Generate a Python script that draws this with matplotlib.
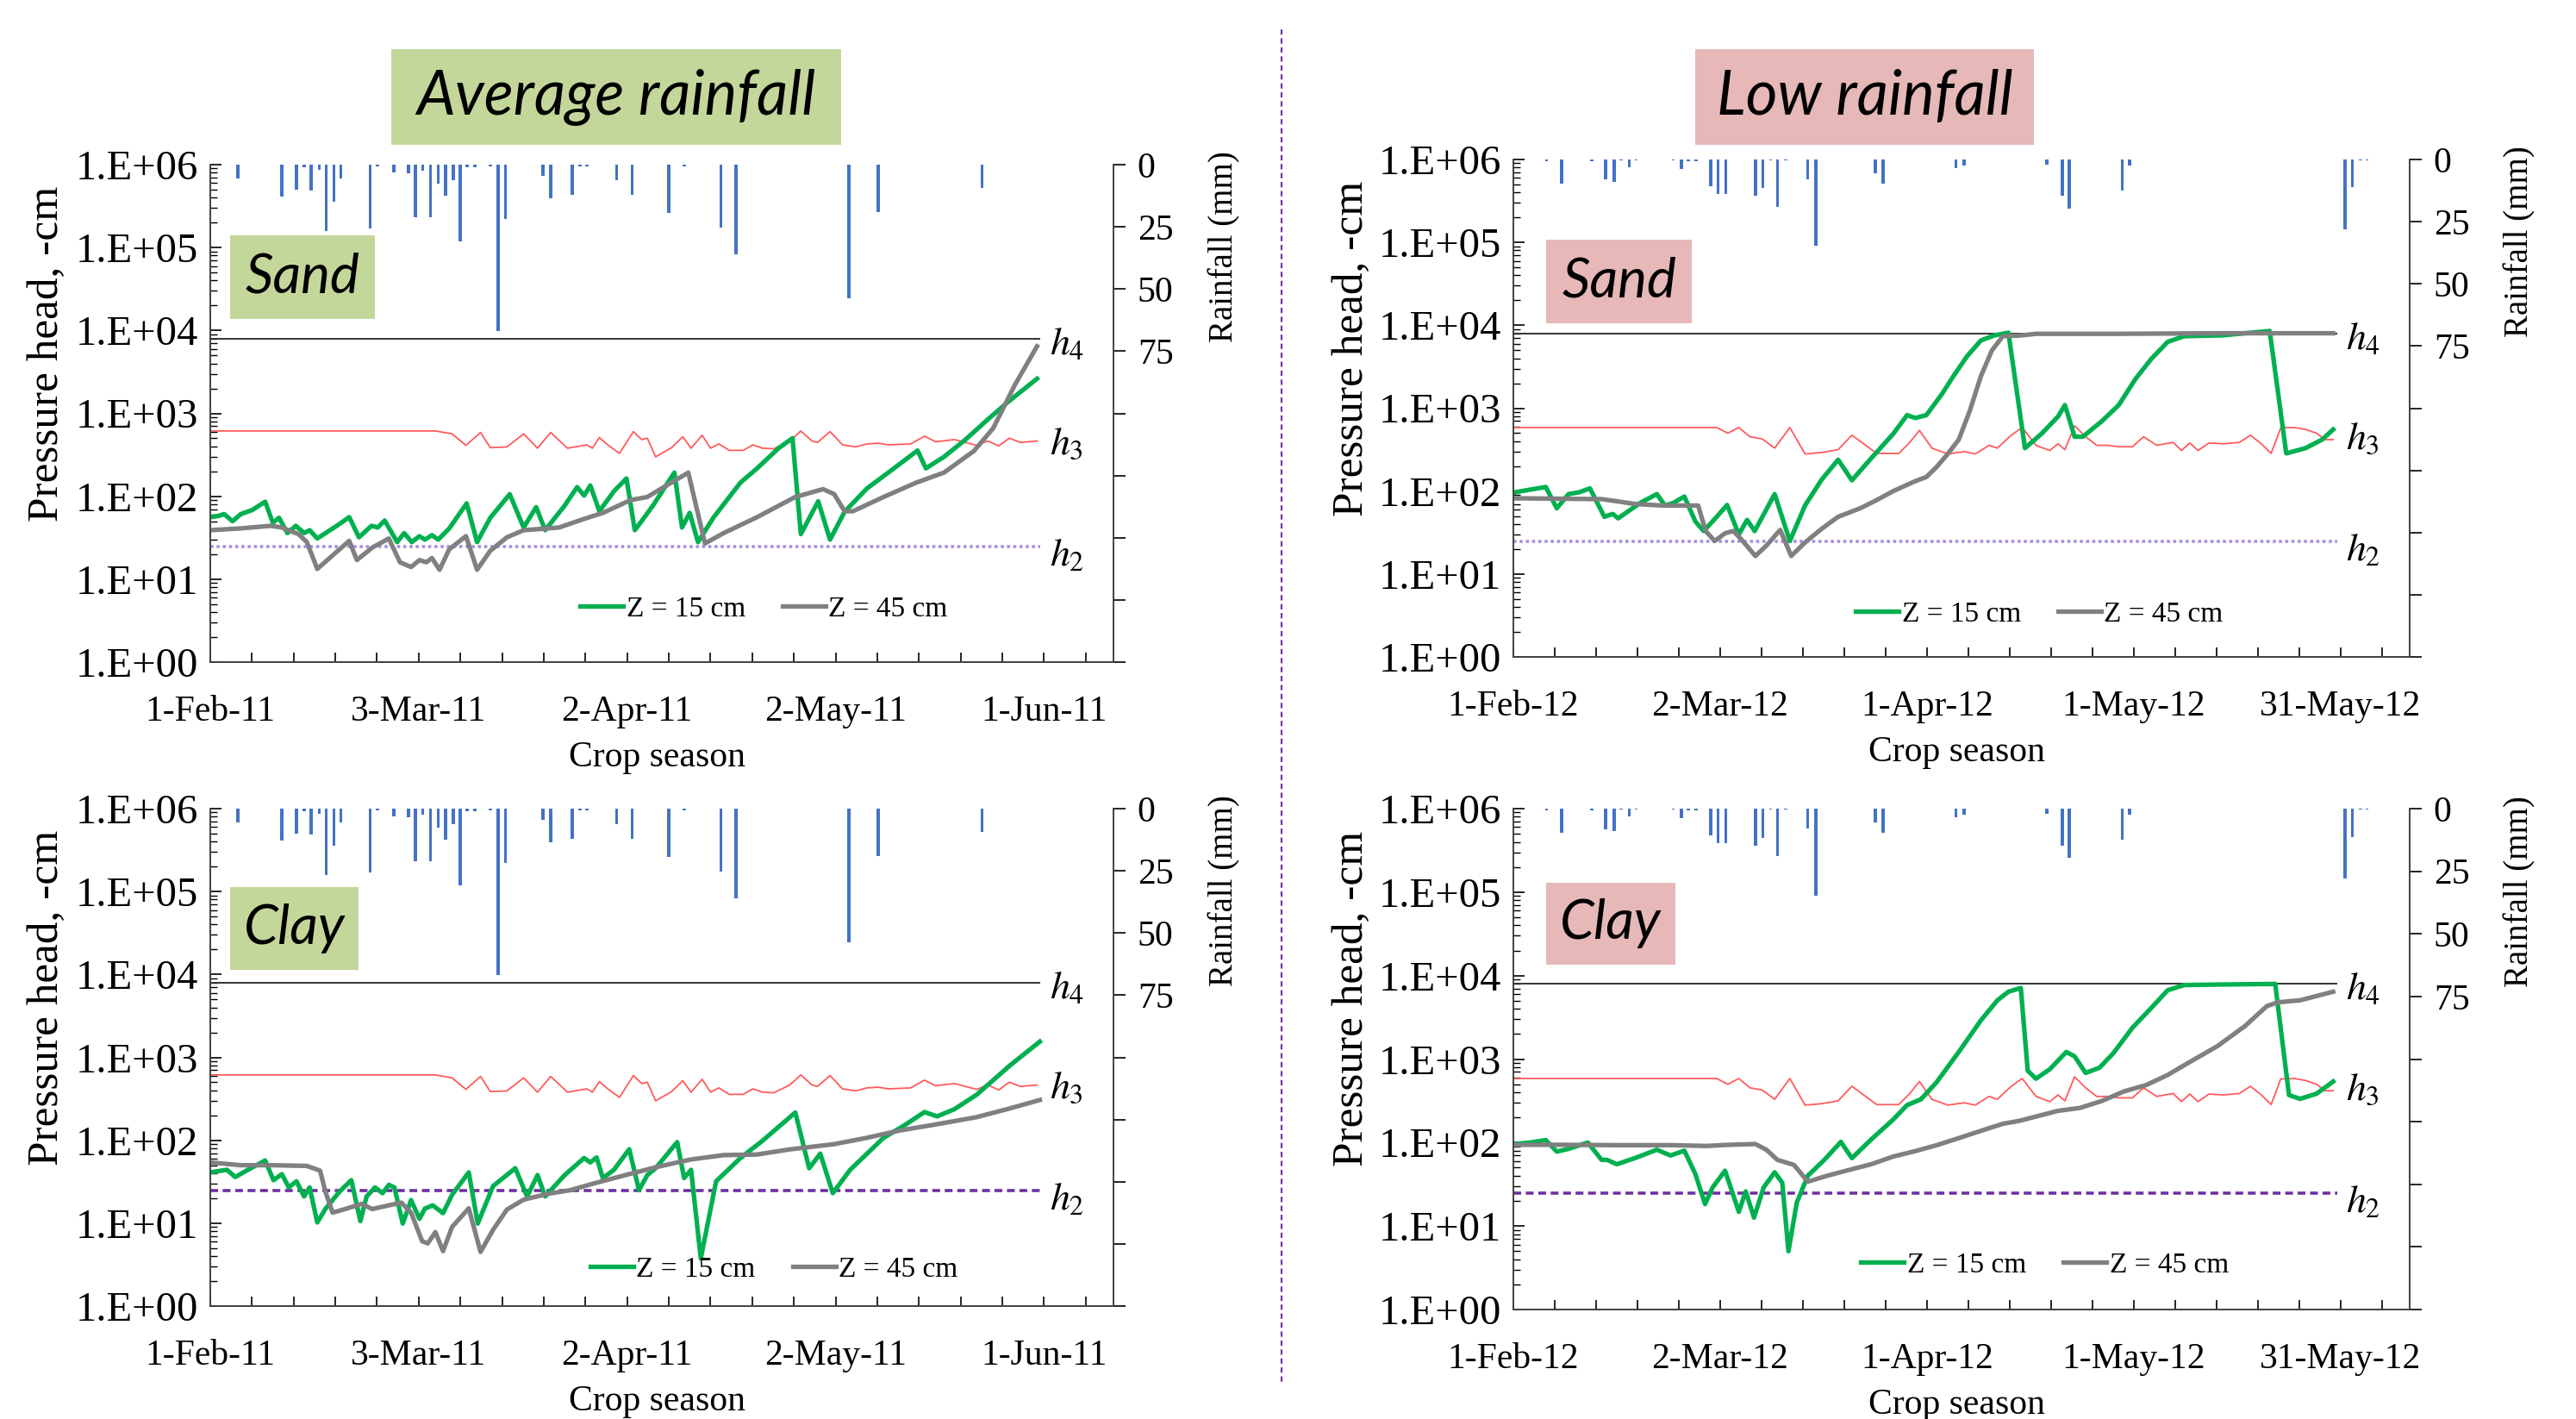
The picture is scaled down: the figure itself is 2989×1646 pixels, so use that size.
import datetime as dt
import numpy as np
import matplotlib
matplotlib.use("Agg")
import matplotlib.pyplot as plt
import matplotlib.dates as mdates
from matplotlib.patches import Rectangle
from matplotlib.lines import Line2D
from matplotlib.ticker import FixedLocator, FuncFormatter, LogLocator, NullFormatter

plt.rcParams['font.family'] = ['Liberation Serif', 'DejaVu Serif']
plt.rcParams['mathtext.fontset'] = 'stix'

# ---- data (days after 1 Feb) ----
H4 = 8000
H2 = 25

rain11_days = [4.0, 10.3, 12.4, 13.5, 14.5, 15.7, 16.7, 17.8, 18.8, 23.0, 24.1, 26.4, 28.5, 29.5, 30.6, 31.7,
               32.8, 33.9, 35.0, 36.0, 37.0, 38.1, 40.3, 41.4, 42.5, 47.9, 49.0, 52.1, 53.2, 54.2, 58.5, 60.7,
               66.0, 68.2, 73.5, 75.7, 91.9, 96.1, 111.1]
rain11_mm = [5.7, 12.9, 10.1, 1.1, 10.3, 2.1, 26.8, 14.9, 5.7, 25.6, 0.6, 3.2, 3.4, 21.2, 2.5, 21.2,
             7.5, 12.4, 6.3, 31.0, 1.1, 1.1, 0.6, 66.8, 22.0, 4.4, 13.5, 12.1, 0.6, 0.6, 6.3, 12.1,
             19.5, 0.6, 25.3, 36.2, 53.6, 18.9, 9.4]

rain12_days = [4.8, 7.0, 11.4, 13.4, 14.6, 15.6, 16.8, 17.8, 23.2, 24.4, 25.4, 26.5, 28.6, 29.7, 30.8, 35.1,
               36.2, 37.3, 38.3, 39.5, 42.7, 43.9, 52.5, 53.6, 64.2, 65.4, 77.4, 79.6, 80.6, 88.3, 89.4,
               120.6, 121.7, 122.9, 123.8]
rain12_mm = [0.6, 9.7, 0.8, 8.1, 8.9, 0.5, 3.1, 0.5, 0.5, 3.9, 0.8, 0.6, 10.6, 13.9, 13.9, 14.7,
             11.6, 0.5, 19.1, 0.5, 8.0, 34.7, 5.4, 9.8, 3.5, 2.3, 2.0, 14.7, 19.6, 12.4, 2.5,
             28.0, 11.2, 0.5, 0.5]

h3_11_days = [0, 32.4, 34.8, 36.8, 38.9, 40.3, 42.7, 45.1, 47.1, 49.0, 51.4, 54.2, 55.0, 56.0, 57.3, 58.9,
              60.9, 62.1, 62.9, 64.1, 66.4, 68.0, 69.2, 70.8, 72.0, 73.2, 74.7, 76.7, 78.1, 79.5, 81.1,
              83.4, 85.0, 86.6, 87.4, 89.2, 91.0, 92.9, 94.5, 96.1, 97.6, 100.8, 102.8, 104.4, 107.1,
              110.3, 111.9, 113.5, 115.0, 116.6, 119.0]
h3_11_vals = [614, 614, 566, 411, 589, 386, 394, 566, 380, 589, 380, 417, 380, 511, 411, 329,
              603, 483, 502, 299, 386, 523, 380, 544, 380, 428, 358, 358, 417, 380, 374,
              464, 614, 464, 446, 603, 417, 394, 428, 437, 417, 428, 531, 455, 483,
              411, 464, 405, 502, 446, 464]

h3_12_days = [0, 29.5, 31.1, 32.7, 34.3, 36.1, 37.9, 40.1, 42.3, 44.7, 47.1, 49.1, 51.1, 52.7, 55.9, 57.5,
              58.9, 60.7, 63.0, 65.4, 67.0, 69.0, 70.2, 72.2, 73.8, 75.8, 77.8, 79.0, 80.0, 81.4, 83.0,
              84.6, 86.2, 87.8, 89.8, 91.4, 93.3, 95.7, 96.9, 98.1, 99.3, 100.9, 102.9, 105.3, 106.9,
              108.5, 109.9, 111.3, 113.3, 114.9, 116.5, 117.7, 118.9]
h3_12_vals = [585, 585, 499, 585, 453, 425, 330, 585, 281, 292, 316, 472, 357, 285, 285, 387,
              540, 330, 281, 299, 281, 357, 330, 472, 585, 357, 309, 372, 316, 614, 453,
              357, 357, 343, 343, 453, 357, 387, 309, 381, 309, 381, 372, 387, 472,
              372, 285, 578, 585, 554, 499, 418, 418]

# average rainfall, sand
s11_z15_days = [0, 1.2, 2, 3.2, 4.4, 6, 7.9, 9, 9.9, 11.1, 12.3, 13.5, 14.3, 15.4, 18.2, 20, 21.4, 23.2,
                24.1, 25.1, 26.9, 27.9, 29, 30.1, 30.9, 31.9, 32.8, 34.4, 36.9, 38.4, 40.3, 43.1, 45.1,
                46.9, 48.2, 51, 52.8, 53.8, 54.7, 56, 58.1, 59.9, 61.1, 62.5, 63.7, 66.8, 67.9, 69, 70.2,
                72.4, 76.3, 78.7, 81.8, 83.8, 85, 87.5, 89.2, 91.3, 94.5, 98.4, 101.8, 103, 105.6, 108.7,
                111.9, 115, 119]
s11_z15_vals = [56, 58, 61, 50, 61, 68, 86, 48, 55, 36, 44, 36, 39, 31, 44, 56, 32, 44,
                42, 51, 28, 36, 28, 33, 30, 34, 30, 41, 82, 28, 55, 106, 42,
                74, 39, 77, 129, 102, 135, 66, 115, 164, 39, 56, 77, 193, 42, 63, 28,
                55, 146, 217, 380, 502, 35, 87, 30, 65, 124, 217, 357, 217, 299, 483,
                843, 1415, 2620]
s11_z45_days = [0, 4.4, 8.7, 10.3, 12.7, 13.9, 15.4, 17.8, 20, 21.1, 23.3, 25.7, 27.3, 28.9, 30.1, 31.1,
                31.9, 33, 34.4, 36.8, 38.4, 40.3, 42.7, 45.1, 48.6, 50.2, 53.4, 56.5, 60.5, 62.9, 66,
                68.8, 71.2, 73.9, 78.7, 84.2, 88.2, 89.8, 91.3, 92.5, 96.9, 101.6, 105.6, 109.9, 112.7,
                115.8, 119]
s11_z45_vals = [39, 41, 44, 42, 35, 28, 13.3, 20, 29, 17, 24, 31, 16, 14, 17, 16,
                18, 13, 23, 33, 13, 22, 32, 39, 41, 42, 52, 63, 90, 98, 140,
                193, 27, 36, 56, 98, 122, 106, 66, 66, 98, 146, 193, 351, 664,
                2200, 6450]

# average rainfall, clay
c11_z15_days = [0, 2.4, 3.6, 5.2, 7.9, 9.1, 10.3, 11.3, 12.4, 13.5, 14.3, 15.4, 16.6, 18.6, 20.3, 21.6,
                22.5, 23.7, 24.8, 25.7, 26.5, 27.7, 28.9, 30.1, 30.9, 32, 33.5, 34.8, 37.2, 38.5, 40.7,
                43.9, 45.6, 47.1, 48.2, 51, 53.8, 54.7, 55.6, 56.5, 58.1, 60.3, 61.7, 62.9, 64.1, 67.2,
                68.2, 69.2, 70.6, 72.8, 76.3, 79.5, 84.2, 86.2, 87.8, 89.6, 92.1, 96.9, 100, 102.8,
                104.6, 107.1, 110.3, 115, 119.4]
c11_z15_vals = [41, 44, 36, 43, 57, 33, 39, 27, 32, 21, 27, 10.2, 15, 24, 33, 10.6,
                21, 27, 23, 29, 27, 9.9, 19, 11.3, 15, 16.4, 13.2, 22, 41, 9.9, 28,
                46, 21, 38, 21, 38, 61, 54, 62, 35, 44, 78, 25, 38, 46, 95,
                35, 44, 3.75, 32, 61, 99, 216, 46, 69, 23, 44, 107, 153, 219,
                194, 237, 354, 786, 1550]
c11_z45_days = [0, 4.4, 9.1, 13.9, 15.8, 16.6, 17.6, 19.4, 21.8, 23.3, 25.7, 27.5, 28.9, 30.5, 31.3, 32.4,
                33.5, 34.8, 37.2, 38.9, 40.7, 42.7, 45.1, 48.6, 51.8, 55, 59.7, 64.5, 69.2, 73.9, 78.7,
                83.4, 89.8, 94.5, 99.2, 104, 110.3, 115, 119.4]
c11_z45_vals = [54, 50, 50, 49, 43, 23.5, 13.4, 14.8, 17.1, 14.8, 16.4, 17.7, 13.4, 6.05, 5.7, 7.8,
                4.6, 9, 15.1, 4.5, 8.3, 14.6, 19.2, 22.6, 25, 29.8, 37.9, 48.1, 58.7, 66.2, 67.3,
                77.6, 89.8, 107, 131, 153, 190, 241, 306]

# low rainfall, sand
s12_z15_days = [0, 2.4, 4.7, 6.3, 8, 9.6, 11.1, 13.2, 14.4, 15.2, 18.4, 20.8, 22, 23.2, 24.8, 26.4, 27.6,
                29.5, 31, 32.7, 33.9, 35, 37.9, 40.1, 42.3, 44.7, 47.1, 49.1, 51.9, 55.1, 57.1, 58.3,
                59.9, 62.2, 63.8, 65.8, 67.8, 69.8, 71.8, 74.2, 76.6, 79, 80, 81.4, 82.6, 85.4, 87.8,
                90.2, 92.5, 94.9, 97.3, 102.9, 109.7, 112.1, 114.9, 117.3, 118.9]
s12_z15_vals = [96, 104, 112, 62, 92, 97, 108, 49, 53, 47, 72, 92, 67, 72, 86, 43, 33,
                49, 68, 30, 45, 33, 92, 25, 67, 137, 239, 135, 249, 491, 824, 762,
                824, 1500, 2420, 4230, 6560, 7570, 8140, 330, 491, 793, 1090, 453, 453, 703, 1090,
                2235, 3910, 6310, 7390, 7570, 8540, 285, 330, 418, 554]
s12_z45_days = [0, 12.8, 15.2, 17.6, 21.6, 26.8, 27.9, 29.2, 30.7, 31.9, 33.1, 35.1, 36.7, 38.7, 40.3,
                42.3, 44.7, 47.1, 50.3, 52.7, 55.1, 58.3, 59.9, 61.4, 63, 64.6, 66.2, 67.8, 69.4, 71,
                73.4, 75.8, 87, 102.9, 118.9]
s12_z45_vals = [82, 80, 75, 70, 67, 67, 33, 25, 31, 33, 26, 16.5, 22, 34, 16.5,
                24, 35, 49, 62, 78, 100, 132, 148, 196, 281, 418, 929, 2420, 4970, 7390,
                7520, 7890, 7890, 8020, 8020]

# low rainfall, clay
c12_z15_days = [0, 2.4, 4.7, 6.3, 8, 10.8, 12.8, 13.6, 15, 17.6, 20.8, 22.8, 24.8, 26.4, 27.8, 28.9,
                30.7, 32.7, 33.7, 34.9, 36.3, 37.9, 39, 39.9, 41.1, 42.7, 45.1, 47.5, 49.1, 51.9, 55.1,
                57.1, 59.1, 61.4, 64.6, 67.8, 70.2, 71.8, 73.6, 74.6, 75.8, 77.8, 80.2, 81.4, 83, 85,
                87, 89.8, 92.2, 94.9, 97.3, 102.9, 110.5, 112.5, 114.1, 116.5, 118.9]
c12_z15_vals = [96, 100, 107, 78, 84, 100, 62, 62, 55, 65, 82, 70, 80, 42, 18.3, 29,
                46, 14.8, 26, 12.6, 29, 44, 33, 5, 19, 40, 62, 102, 65, 109, 189,
                281, 329, 530, 1216, 2904, 5058, 6412, 7110, 726, 582, 756, 1216, 1079, 682, 787,
                1170, 2382, 3836, 6677, 7703, 7825, 7943, 370, 334, 385, 538]
c12_z45_days = [0, 7.2, 15.2, 23.2, 28, 31.2, 35.1, 36.7, 38.3, 40.7, 42.7, 45.5, 48.7, 51.9, 55.1,
                58.3, 61.4, 64.6, 67.8, 71, 73.4, 75.8, 79, 82.2, 85.4, 88.6, 91.8, 94.9, 98.1, 102.1,
                106.1, 109.3, 110.9, 114.1, 118.9]
c12_z45_vals = [94, 94, 93, 93, 91, 94, 96, 82, 62, 54, 34, 40, 47, 55, 68,
                79, 93, 113, 138, 168, 182, 205, 240, 260, 316, 411, 489, 645, 922, 1426,
                2482, 4319, 4789, 5058, 6412]

rain_ticks = [0, 25, 50, 75, 100, 125, 150, 175, 200]
rain_labels = ['0', '25', '50', '75', '', '', '', '', '']

GREEN = '#00b050'
GREY = '#808080'
RED = '#ff5b5b'
BLUE = '#4472c4'
BOX_GREEN = '#c4d79b'
BOX_PINK = '#e6b8b7'

W, H = 2989, 1646
fig = plt.figure(figsize=(W / 100, H / 100), dpi=100)


def date_label(v, pos):
    d = mdates.num2date(v)
    return f"{d.day}-{d:%b-%y}"


def draw_panel(rect, start, rain_d, rain_mm, h3_d, h3_v, g_d, g_v, k_d, k_v, lower, leg_xy):
    ax = fig.add_axes(rect)
    x0 = mdates.date2num(start)
    ax.set_yscale('log')
    ax.set_ylim(1, 1e6)
    ax.set_xlim(x0, x0 + 130)

    end = x0 + 119.5
    ax.hlines(H4, x0, end, color='#333333', lw=1.4, zorder=2)
    ax.plot(x0 + np.array(h3_d), h3_v, color=RED, lw=1.3, zorder=2)
    if lower:
        ax.hlines(H2, x0, end, color='#7030a0', lw=2.6, linestyles=(0, (2.5, 1.5)), zorder=2)
    else:
        ax.hlines(H2, x0, end, color='#a98fe0', lw=2.6, linestyles=(0, (1, 1)), zorder=2)
    ax.plot(x0 + np.array(g_d), g_v, color=GREEN, lw=3.8, zorder=3, solid_joinstyle='round')
    ax.plot(x0 + np.array(k_d), k_v, color=GREY, lw=3.8, zorder=3, solid_joinstyle='round')

    for val, lab in [(6800, r'$h_4$'), (420, r'$h_3$'), (19, r'$h_2$')]:
        ax.text(x0 + 120.8, val, lab, fontsize=33, va='center', ha='left')

    ax.yaxis.set_major_locator(LogLocator(base=10, numticks=10))
    ax.yaxis.set_minor_locator(LogLocator(base=10, subs=np.arange(2, 10), numticks=10))
    ax.yaxis.set_minor_formatter(NullFormatter())
    ax.yaxis.set_major_formatter(FuncFormatter(lambda v, p: f"1.E+{int(round(np.log10(v))):02d}"))
    ax.tick_params(axis='y', which='major', direction='in', length=9, width=1.2, labelsize=35, pad=10)
    ax.tick_params(axis='y', which='minor', direction='in', length=6, width=1.0)

    ax.xaxis.set_major_locator(FixedLocator(x0 + np.arange(0, 121, 30)))
    ax.xaxis.set_minor_locator(FixedLocator(x0 + np.arange(0, 131, 6)))
    ax.xaxis.set_major_formatter(FuncFormatter(date_label))
    ax.tick_params(axis='x', which='both', direction='in', length=8, width=1.2, labelsize=30, pad=28)

    ax.set_xlabel('Crop season', fontsize=30)
    ax.xaxis.set_label_coords(0.495, -0.158)
    ax.set_ylabel('Pressure head, -cm', fontsize=37)
    ax.yaxis.set_label_coords(-0.158, 0.62)

    ax2 = ax.twinx()
    ax2.bar(x0 + np.array(rain_d), rain_mm, width=0.45, color=BLUE, zorder=1)
    ax2.set_ylim(200, 0)
    ax2.set_yticks(rain_ticks)
    ax2.set_yticklabels(rain_labels)
    ax2.tick_params(axis='y', direction='out', length=10, width=1.2, labelsize=30, pad=10)
    ax2.set_ylabel('Rainfall (mm)', fontsize=28)
    ax2.yaxis.set_label_coords(1.105, 0.835)

    for a in (ax, ax2):
        a.spines['top'].set_visible(False)
        for s in ('left', 'right', 'bottom'):
            a.spines[s].set_linewidth(1.2)
            a.spines[s].set_color('#404040')

    handles = [Line2D([], [], color=GREEN, lw=3.8), Line2D([], [], color=GREY, lw=3.8)]
    ax2.legend(handles, ['Z = 15 cm', 'Z = 45 cm'], loc='center', bbox_to_anchor=leg_xy, ncol=2,
               frameon=False, fontsize=24, handlelength=1.5, handletextpad=0.1, columnspacing=1.3)
    return ax


def label_box(x1, y1, x2, y2, color, text, size):
    fig.patches.append(Rectangle((x1 / W, 1 - y2 / H), (x2 - x1) / W, (y2 - y1) / H,
                                 transform=fig.transFigure, facecolor=color, edgecolor='none', zorder=5))
    fig.text((x1 + x2) / 2 / W, 1 - (y1 + y2) / 2 / H, text, fontsize=size, style='italic',
             family=['Lato', 'Open Sans', 'DejaVu Sans'], ha='center', va='center', zorder=6)


start11 = dt.datetime(2011, 2, 1)
start12 = dt.datetime(2012, 2, 1)

draw_panel([244 / W, 1 - 768 / H, 1048 / W, 577 / H], start11, rain11_days, rain11_mm,
           h3_11_days, h3_11_vals, s11_z15_days, s11_z15_vals, s11_z45_days, s11_z45_vals,
           False, (0.613, 0.106))
draw_panel([1756 / W, 1 - 762 / H, 1040 / W, 577 / H], start12, rain12_days, rain12_mm,
           h3_12_days, h3_12_vals, s12_z15_days, s12_z15_vals, s12_z45_days, s12_z45_vals,
           False, (0.587, 0.086))
draw_panel([244 / W, 1 - 1515 / H, 1048 / W, 577 / H], start11, rain11_days, rain11_mm,
           h3_11_days, h3_11_vals, c11_z15_days, c11_z15_vals, c11_z45_days, c11_z45_vals,
           True, (0.624, 0.073))
draw_panel([1756 / W, 1 - 1519 / H, 1040 / W, 581 / H], start12, rain12_days, rain12_mm,
           h3_12_days, h3_12_vals, c12_z15_days, c12_z15_vals, c12_z45_days, c12_z45_vals,
           True, (0.593, 0.089))

label_box(454, 57, 976, 168, BOX_GREEN, 'Average rainfall', 51)
label_box(1967, 57, 2360, 168, BOX_PINK, 'Low rainfall', 51)
label_box(267, 273, 435, 370, BOX_GREEN, 'Sand', 46)
label_box(1794, 278, 1963, 375, BOX_PINK, 'Sand', 46)
label_box(267, 1029, 416, 1125, BOX_GREEN, 'Clay', 46)
label_box(1794, 1024, 1944, 1119, BOX_PINK, 'Clay', 46)

fig.add_artist(Line2D([1487 / W, 1487 / W], [1 - 34 / H, 1 - 1605 / H], transform=fig.transFigure,
                      color='#7030a0', lw=1.5, linestyle=(0, (3, 2))))

fig.savefig('out.png', dpi=100)
